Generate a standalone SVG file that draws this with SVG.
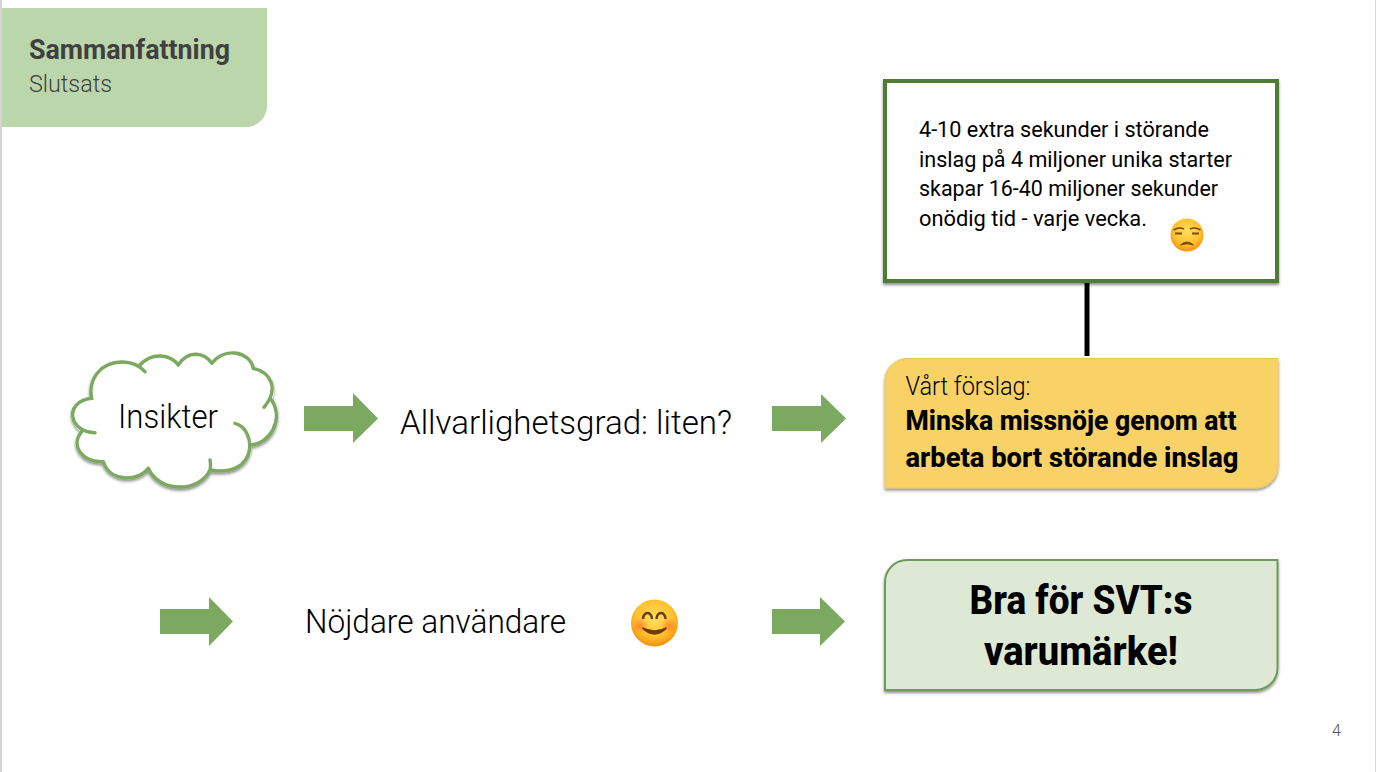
<svg xmlns="http://www.w3.org/2000/svg" width="1376" height="772" viewBox="0 0 1376 772">
<style>
text{font-family:Roboto,"Liberation Sans",sans-serif;fill:#000}
.b{font-weight:700}
.arrow{fill:#7aa95f}
.body{font-size:22px;font-weight:400}
.big{font-size:33px;font-weight:300}
.strong{font-size:28px;font-weight:800}
.huge{font-size:40px;font-weight:800;text-anchor:middle}
</style>
<defs>
<filter id="sh" x="-10%" y="-10%" width="120%" height="125%"><feDropShadow dx="0" dy="2" stdDeviation="1.6" flood-color="#000" flood-opacity=".45"/></filter>
<radialGradient id="face" cx=".5" cy=".4" r=".62"><stop offset="0" stop-color="#ffdf60"/><stop offset=".65" stop-color="#ffc02c"/><stop offset="1" stop-color="#f58a0c"/></radialGradient>
<radialGradient id="blush"><stop offset="0" stop-color="#ff6a2a" stop-opacity=".7"/><stop offset="1" stop-color="#ff6a2a" stop-opacity="0"/></radialGradient>
</defs>
<rect width="1376" height="772" fill="#fff"/>
<rect x="0" y="0" width="2" height="772" fill="#d4d4d4"/>
<rect x="1375" y="0" width="1" height="772" fill="#d8d8d8"/>
<g id="header">
<path d="M2 8H267V106a21 21 0 0 1-21 21H2Z" fill="#bcd6ab"/>
<text x="29" y="59" font-size="27" class="b" style="fill:#404040" textLength="201" lengthAdjust="spacingAndGlyphs">Sammanfattning</text>
<text x="29" y="92" font-size="24" style="fill:#404040;font-weight:300" textLength="83" lengthAdjust="spacingAndGlyphs">Slutsats</text>
</g>
<g id="connectors">
<line x1="1087" y1="283" x2="1087" y2="356" stroke="#000" stroke-width="5"/>
<path class="arrow" d="M304 406H353V393L378 418.500L353 443V431H304Z"/>
<path class="arrow" d="M772 406H821V394L846 418.500L821 443V431H772Z"/>
<path class="arrow" d="M160 609H209V597L233 621.500L209 646V634H160Z"/>
<path class="arrow" d="M772 609H820V597L845 621.500L820 646V634H772Z"/>
</g>
<g id="cloud">
<g filter="url(#sh)">
<path fill="#fff" d="M91.700 398.300C88 380 100 362 122 362C130 362 139 365 145 371.700C142 369 140 367 140 365C152 352 170 354 178.300 365C188 350 204 352 211.700 363.300C226 346 250 352 253.300 368.300C270 372 278 386 271.700 400C284 420 270 444 250 445C252 462 232 477 210 470C200 492 160 494 148.300 468.300C138 482 110 482 103.300 461.700C82 462 70 446 81.700 431.700C68 425 68 400 91.700 398.300Z"/>
<path fill="none" stroke="#7aa95f" stroke-width="3.400" stroke-linecap="round" d="M95 432.700C70 433 62 402 91.700 398.300C88 380 100 362 122 362C130 362 139 365 145 371.700M140 365C152 352 170 354 178.300 365M178.300 365C188 350 204 352 211.700 363.300M211.700 363.300C226 346 250 352 253.300 368.300C270 372 280 388 264 407.300M271.700 400C284 420 270 444 250 445M235 423.300C256 428 260 478 210 470M210 470Q211 465 210 460M210 470C200 492 160 494 148.300 468.300M148.300 468.300C138 482 110 482 103.300 461.700M103.300 461.700C82 462 70 446 81.700 431.700"/>
</g>
<text x="118" y="428" font-size="33" font-weight="300" textLength="100" lengthAdjust="spacingAndGlyphs">Insikter</text>
</g>
<g id="severity"><text x="400" y="434" class="big" textLength="332" lengthAdjust="spacingAndGlyphs">Allvarlighetsgrad: liten?</text></g>
<g id="note">
<rect x="885" y="81" width="392" height="200" fill="#fff" stroke="#4f7b32" stroke-width="4" filter="url(#sh)"/>
<g class="body">
<text x="919" y="136.500" textLength="290" lengthAdjust="spacingAndGlyphs">4-10 extra sekunder i störande</text>
<text x="919" y="166.500" textLength="313" lengthAdjust="spacingAndGlyphs">inslag på 4 miljoner unika starter</text>
<text x="919" y="195.500" textLength="299" lengthAdjust="spacingAndGlyphs">skapar 16-40 miljoner sekunder</text>
<text x="919" y="225.500" textLength="228" lengthAdjust="spacingAndGlyphs">onödig tid - varje vecka.</text>
</g>
<g id="unamused-face">
<circle cx="1187" cy="235" r="16.500" fill="url(#face)"/>
<path d="M1173.500 230Q1179 226.500 1184 229M1190 229Q1195 226.500 1200.500 230" fill="none" stroke="#7a4a10" stroke-width="1.600"/>
<path d="M1175 233.500h7M1192 233.500h7" stroke="#7a4a10" stroke-width="2.200"/>
<path d="M1180.500 245Q1187 239 1193.500 245Q1187 242.500 1180.500 245Z" fill="#7a4a10" stroke="#7a4a10" stroke-width="1"/>
</g>
</g>
<g id="proposal">
<path d="M907 358.500H1278V466a22 22 0 0 1-22 22H885V380.500a22 22 0 0 1 22-22Z" fill="#f8d266" stroke="#eec45a" filter="url(#sh)"/>
<text x="905.500" y="395" font-size="25" font-weight="300" textLength="125" lengthAdjust="spacingAndGlyphs">Vårt förslag:</text>
<text x="905.500" y="430" class="strong" textLength="331" lengthAdjust="spacingAndGlyphs">Minska missnöje genom att</text>
<text x="905.500" y="467" class="strong" textLength="333" lengthAdjust="spacingAndGlyphs">arbeta bort störande inslag</text>
</g>
<g id="users">
<text x="305" y="633" class="big" textLength="261" lengthAdjust="spacingAndGlyphs">Nöjdare användare</text>
<g id="smiling-face">
<circle cx="654.500" cy="623" r="23.500" fill="url(#face)"/>
<circle cx="640" cy="626" r="8" fill="url(#blush)"/>
<circle cx="669" cy="626" r="8" fill="url(#blush)"/>
<path d="M643.500 621a4.500 6 0 0 1 9 0M657 621a4.500 6 0 0 1 9 0" fill="none" stroke="#6a3d0a" stroke-width="2.500" transform="translate(-.5 -2)"/>
<path d="M642.500 628Q654.500 640 666.500 628Q654.500 634 642.500 628Z" fill="#6a3d0a" stroke="#6a3d0a" stroke-width="1.500"/>
</g>
</g>
<g id="brand">
<path d="M907 560H1277.500V668a22 22 0 0 1-22 22H885V582a22 22 0 0 1 22-22Z" fill="#dde8d5" stroke="#6f9a58" stroke-width="2" filter="url(#sh)"/>
<text x="1081" y="614" class="huge" textLength="223" lengthAdjust="spacingAndGlyphs">Bra för SVT:s</text>
<text x="1081" y="665" class="huge" textLength="194" lengthAdjust="spacingAndGlyphs">varumärke!</text>
</g>
<text x="1332" y="736" font-size="16" font-weight="300" style="fill:#555">4</text>
</svg>
